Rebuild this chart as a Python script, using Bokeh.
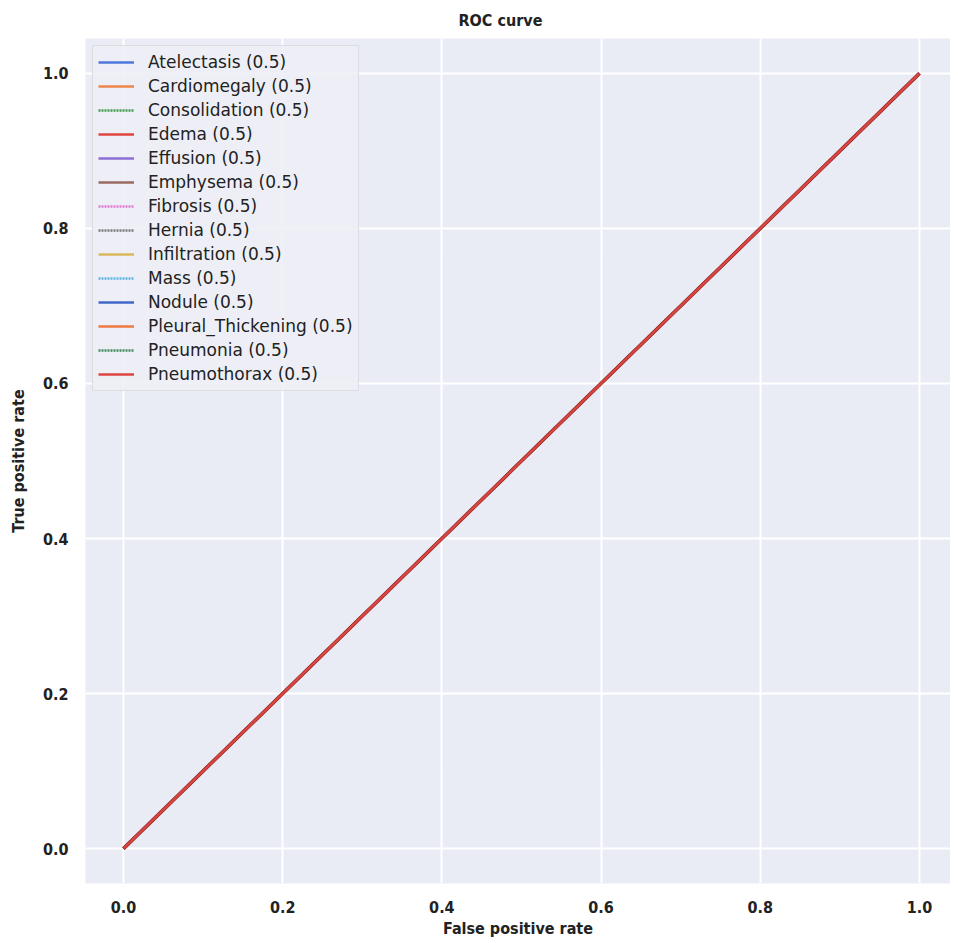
from bokeh.plotting import figure
from bokeh.models import Legend, LegendItem, FixedTicker, PrintfTickFormatter, Range1d
from bokeh.embed import file_html
from bokeh.resources import INLINE

# ---- data ----
classes = ["Atelectasis", "Cardiomegaly", "Consolidation", "Edema", "Effusion",
           "Emphysema", "Fibrosis", "Hernia", "Infiltration", "Mass", "Nodule",
           "Pleural_Thickening", "Pneumonia", "Pneumothorax"]
auc_values = [0.5, 0.5, 0.5, 0.5, 0.5, 0.5, 0.5, 0.5, 0.5, 0.5, 0.5, 0.5, 0.5, 0.5]
fpr = [0.0, 1.0]
tpr = [0.0, 1.0]
tick_values = [0.0, 0.2, 0.4, 0.6, 0.8, 1.0]

# ---- styles ----
palette = ["#4C78DC", "#EE854A", "#3E9A4F", "#E0443F", "#8A6FD6", "#9A6A60",
           "#E07AD0", "#797979", "#D9B85C", "#5FB4E6", "#4068C8", "#EE7A40",
           "#3E8A5F", "#DC4440"]
dashes = ["solid", "solid", "2 1", "solid", "solid", "solid", "2 1", "2 1",
          "solid", "2 1", "solid", "solid", "2 1", "solid"]

BOLD_FONT = "DejaVu Sans Condensed, DejaVu Sans"

p = figure(width=950, height=941, output_backend="svg", toolbar_location=None,
           x_range=Range1d(-0.0477, 1.039), y_range=Range1d(-0.045, 1.045),
           min_border_left=85, min_border_right=0, min_border_top=37,
           min_border_bottom=58)

p.background_fill_color = "#E9ECF4"
p.border_fill_color = "white"
p.outline_line_color = None

p.title.text = "ROC curve"
p.title.text_font = BOLD_FONT
p.title.text_font_style = "bold"
p.title.text_font_size = "16px"
p.title.text_color = "#222222"
p.title.align = "left"
p.title.offset = 373
p.title.standoff = 17

for ax in (p.xaxis[0], p.yaxis[0]):
    ax.ticker = FixedTicker(ticks=tick_values)
    ax.formatter = PrintfTickFormatter(format="%.1f")
    ax.axis_line_color = None
    ax.major_tick_line_color = None
    ax.minor_tick_line_color = None
    ax.major_tick_out = 0
    ax.major_tick_in = 0
    ax.major_label_text_font = BOLD_FONT
    ax.major_label_text_font_style = "bold"
    ax.major_label_text_font_size = "16px"
    ax.major_label_text_color = "#222222"
    ax.axis_label_text_font = BOLD_FONT
    ax.axis_label_text_font_style = "bold"
    ax.axis_label_text_font_size = "16px"
    ax.axis_label_text_color = "#222222"

p.xaxis.axis_label = "False positive rate"
p.yaxis.axis_label = "True positive rate"
p.xaxis.major_label_standoff = 17
p.xaxis.axis_label_standoff = 3
p.yaxis.major_label_standoff = 17
p.yaxis.axis_label_standoff = 12

p.xgrid.grid_line_color = "white"
p.ygrid.grid_line_color = "white"
p.xgrid.grid_line_width = 2
p.ygrid.grid_line_width = 2

items = []
n = len(classes)
for i, name in enumerate(classes):
    if i == n - 1:
        # darker edge under the top-most line, as in the reference
        p.line(fpr, tpr, line_color="#8E2A28", line_width=3.6)
    r = p.line(fpr, tpr, line_color=palette[i], line_width=2.4,
               line_dash=dashes[i])
    items.append(LegendItem(label=f"{name} ({auc_values[i]})", renderers=[r]))

legend = Legend(items=items, location="top_left", margin=7, padding=5,
                spacing=2, label_height=22, glyph_height=22, glyph_width=36,
                label_standoff=14, label_text_font="DejaVu Sans",
                label_text_font_size="17px", label_text_color="#222222",
                border_line_color="#CCCCCC", border_line_width=1,
                background_fill_color="#EEF0F6", background_fill_alpha=0.9)
p.add_layout(legend)

open("out.html", "w").write(file_html(p, INLINE))
